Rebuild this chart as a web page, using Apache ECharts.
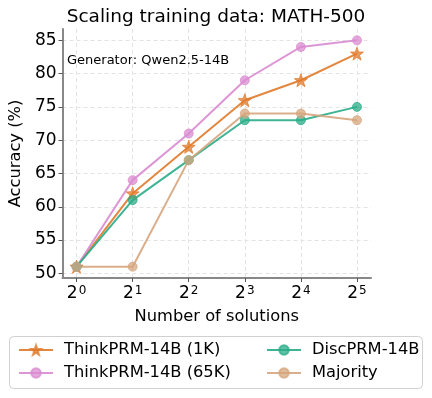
<!DOCTYPE html>
<html>
<head>
<meta charset="utf-8">
<script src="https://cdn.jsdelivr.net/npm/echarts@6/dist/echarts.min.js"></script>
<style>
  html, body { margin: 0; padding: 0; background: #fff; }
  #chart { width: 432px; height: 398px; }
</style>
</head>
<body>
<div id="chart"></div>
<script>
const solutions = [1, 2, 4, 8, 16, 32];
const thinkPrm1k = [51, 62, 69, 76, 79, 83];
const thinkPrm65k = [51, 64, 71, 79, 84, 85];
const discPrm = [51, 61, 67, 73, 73, 75];
const majority = [51, 51, 67, 74, 74, 73];
const yTicks = [50, 55, 60, 65, 70, 75, 80, 85];

const exps = solutions.map(n => Math.log2(n));
const font = 'DejaVu Sans';

const myChart = echarts.init(document.getElementById('chart'));

function makeSeries(name, values, color, symbol, size) {
    return {
        name: name,
        type: 'line',
        data: values.map((v, i) => [exps[i], v]),
        symbol: symbol,
        symbolSize: size,
        lineStyle: { color: color, width: 2, opacity: 0.9 },
        itemStyle: { color: color, opacity: 0.75, borderColor: color, borderWidth: 1 },
        emphasis: { disabled: true }
    };
}

const option = {
    animation: false,
    textStyle: { fontFamily: font },
    title: {
        text: 'Scaling training data: MATH-500',
        left: 'center',
        top: 3,
        textStyle: { fontSize: 18.5, fontWeight: 'normal', color: '#000', fontFamily: font }
    },
    grid: { left: 61, right: 61, top: 29, bottom: 120, containLabel: false },
    xAxis: {
        type: 'value',
        min: -0.25,
        max: 5.25,
        name: 'Number of solutions',
        nameLocation: 'middle',
        nameGap: 31,
        nameTextStyle: { fontSize: 16.3, color: '#000', fontFamily: font },
        axisLine: { lineStyle: { color: '#888', width: 2 } },
        axisTick: { show: true, length: 4, lineStyle: { color: '#555' }, customValues: exps },
        axisLabel: {
            customValues: exps,
            margin: 7,
            formatter: v => '{b|2}{s|' + Math.round(v) + '}',
            rich: {
                b: { fontSize: 17, color: '#000', fontFamily: font },
                s: { fontSize: 12, color: '#000', fontFamily: font, verticalAlign: 'top', padding: [0, 0, 0, 1] }
            }
        },
        splitLine: { show: true, lineStyle: { color: '#e3e3e3', type: [4, 3], width: 1 } }
    },
    yAxis: {
        type: 'value',
        min: 49.3,
        max: 86.7,
        name: 'Accuracy (%)',
        nameLocation: 'middle',
        nameGap: 37,
        nameTextStyle: { fontSize: 16.3, color: '#000', fontFamily: font },
        axisLine: { show: true, onZero: false, lineStyle: { color: '#888', width: 2 } },
        axisTick: { show: true, length: 4, lineStyle: { color: '#555' }, customValues: yTicks },
        axisLabel: { customValues: yTicks, fontSize: 17, color: '#000', margin: 6, fontFamily: font },
        splitLine: { show: true, lineStyle: { color: '#e3e3e3', type: [4, 3], width: 1 } }
    },
    legend: [
        {
            data: ['ThinkPRM-14B (1K)', 'ThinkPRM-14B (65K)'],
            orient: 'vertical',
            left: 13,
            top: 337,
            itemWidth: 34,
            itemHeight: 12,
            itemGap: 7,
            textStyle: { fontSize: 16.3, color: '#000', fontFamily: font, padding: [0, 0, 0, 6] }
        },
        {
            data: ['DiscPRM-14B', 'Majority'],
            orient: 'vertical',
            left: 261,
            top: 337,
            itemWidth: 34,
            itemHeight: 12,
            itemGap: 7,
            textStyle: { fontSize: 16.3, color: '#000', fontFamily: font, padding: [0, 0, 0, 6] }
        }
    ],
    graphic: [
        {
            type: 'text',
            left: 67,
            top: 54,
            style: { text: 'Generator: Qwen2.5-14B', fontSize: 13, fill: '#000', fontFamily: font }
        },
        {
            type: 'rect',
            shape: { x: 9.5, y: 336.5, width: 413, height: 52, r: 4 },
            style: { fill: 'none', stroke: '#d0d0d0', lineWidth: 1 },
            silent: true
        }
    ],
    series: [
        makeSeries('ThinkPRM-14B (1K)', thinkPrm1k, '#e07a2a', 'path://M0,-10 L2.35,-3.24 L9.51,-3.09 L3.8,1.24 L5.88,8.09 L0,4 L-5.88,8.09 L-3.8,1.24 L-9.51,-3.09 L-2.35,-3.24 Z', 13),
        makeSeries('ThinkPRM-14B (65K)', thinkPrm65k, '#d98bd0', 'circle', 9),
        makeSeries('DiscPRM-14B', discPrm, '#2aac88', 'circle', 9),
        makeSeries('Majority', majority, '#d6a57e', 'circle', 9)
    ]
};

myChart.setOption(option);
</script>
</body>
</html>
